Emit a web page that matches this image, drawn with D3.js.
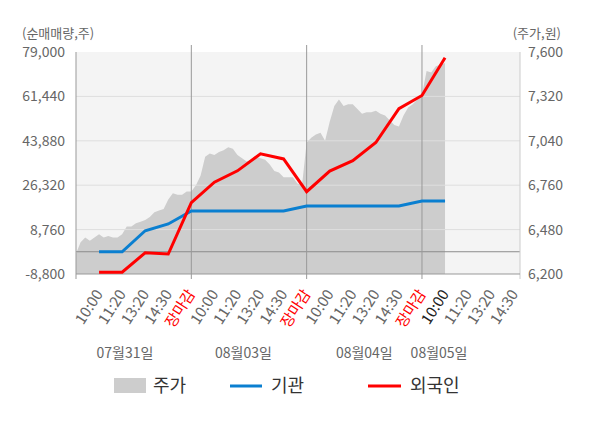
<!DOCTYPE html>
<html><head><meta charset="utf-8">
<script src="https://cdn.jsdelivr.net/npm/d3@7/dist/d3.min.js"></script>
<style>
html,body{margin:0;padding:0;background:#fff;}
text{font-family:"Noto Sans CJK KR","Noto Sans",sans-serif;}
</style></head>
<body><svg id="c" width="600" height="428"></svg>
<script>
// ---- data ----
const timeLabels = ["10:00","11:20","13:20","14:30","장마감","10:00","11:20","13:20","14:30","장마감","10:00","11:20","13:20","14:30","장마감","10:00","11:20","13:20","14:30"];
const dateLabels = ["07월31일","08월03일","08월04일","08월05일"];
const leftTicks = [-8800, 8760, 26320, 43880, 61440, 79000];
const rightTicks = [6200, 6480, 6760, 7040, 7320, 7600];
// net buying volume at each label slot (slot 1..16)
const institution = [0, 0, 8300, 11000, 16100, 16100, 16100, 16100, 16100, 18100, 18100, 18100, 18100, 18100, 20100, 20100];
const foreigner = [-8100, -8100, -400, -900, 19400, 27500, 32000, 38700, 36700, 23750, 31900, 36000, 43200, 56600, 61800, 76700];
// stock price, sampled every 0.2 slot from the start
const price = [
 6330,6400,6430,6410,6430,6450,6430,6440,6430,6430,6450,6500,6500,6520,6530,6540,6560,6590,6600,6610,6670,6710,6700,6700,6720,6720,
 6760,6820,6940,6960,6950,6970,6980,7000,6990,6950,6930,6910,6920,6940,6930,6920,6890,6850,6840,6810,6810,6810,6770,6760,
 7030,7060,7080,7090,7040,7160,7260,7300,7260,7270,7270,7240,7210,7220,7220,7230,7210,7200,7170,7140,7130,7200,7250,7270,7300,7330,
 7480,7470,7510,7520,7530
];

// ---- layout ----
const L = 76, R = 520, T = 52, B = 274;
const svg = d3.select("#c");
const x = d3.scaleLinear().domain([0, 19.25]).range([L, R]);
const yL = d3.scaleLinear().domain([-8800, 79000]).range([B, T]);
const yR = d3.scaleLinear().domain([6200, 7600]).range([B, T]);

svg.append("rect").attr("x", L).attr("y", T).attr("width", R - L).attr("height", B - T).attr("fill", "#f4f4f4");

// price area
svg.append("path").datum(price)
  .attr("fill", "#cdcdcd")
  .attr("d", d3.area().x((d, i) => x(i * 0.2)).y0(B).y1(d => yR(d)));

// gridlines
svg.append("g").selectAll("line").data(leftTicks.slice(1, -1)).join("line")
  .attr("x1", L).attr("x2", R).attr("y1", d => yL(d)).attr("y2", d => yL(d))
  .attr("stroke", "#dedede").attr("stroke-width", 1);
// zero line
svg.append("line").attr("x1", L).attr("x2", R).attr("y1", yL(0)).attr("y2", yL(0))
  .attr("stroke", "#8c8c8c").attr("stroke-width", 1);
// day separators
svg.append("g").selectAll("line").data([5, 10, 15]).join("line")
  .attr("x1", d => x(d)).attr("x2", d => x(d)).attr("y1", 45).attr("y2", B + 5)
  .attr("stroke", "#999").attr("stroke-width", 1);

// axes
svg.append("line").attr("x1", L).attr("x2", L).attr("y1", T).attr("y2", B + 5).attr("stroke", "#999");
svg.append("line").attr("x1", R).attr("x2", R).attr("y1", T).attr("y2", B + 5).attr("stroke", "#ccc");
svg.append("line").attr("x1", L).attr("x2", R).attr("y1", B).attr("y2", B).attr("stroke", "#999");

svg.append("g").selectAll("text").data(leftTicks).join("text")
  .attr("x", 65).attr("y", d => yL(d)).attr("dy", "0.36em").attr("text-anchor", "end")
  .attr("font-size", 14).attr("fill", "#666")
  .text(d => d3.format(",")(d).replace("−", "-"));
svg.append("g").selectAll("text").data(rightTicks).join("text")
  .attr("x", 528).attr("y", d => yR(d)).attr("dy", "0.36em").attr("text-anchor", "start")
  .attr("font-size", 14).attr("fill", "#666")
  .text(d => d3.format(",")(d));
svg.append("text").attr("x", 22).attr("y", 33).attr("dy", "0.36em").attr("font-size", 13).attr("fill", "#666").text("(순매매량,주)");
svg.append("text").attr("x", 561).attr("y", 33).attr("dy", "0.36em").attr("text-anchor", "end").attr("font-size", 13).attr("fill", "#666").text("(주가,원)");

// x labels
svg.append("g").selectAll("text").data(timeLabels).join("text")
  .attr("transform", (d, i) => `translate(${x(i + 1)},${291}) rotate(-57)`)
  .attr("dy", "0.36em").attr("text-anchor", "end").attr("font-size", 15)
  .attr("fill", (d, i) => d === "장마감" ? "#ff0000" : (i === 15 ? "#222" : "#666"))
  .text(d => d);
const datePos = [2.12, 7.26, 12.5, 15.74];
svg.append("g").selectAll("text").data(dateLabels).join("text")
  .attr("x", (d, i) => x(datePos[i])).attr("y", 353).attr("dy", "0.36em").attr("text-anchor", "middle")
  .attr("font-size", 14).attr("fill", "#666").text(d => d);

// lines
const line = d3.line().x((d, i) => x(i + 1)).y(d => yL(d));
svg.append("path").datum(institution).attr("fill", "none").attr("stroke", "#0a7fd0").attr("stroke-width", 3).attr("d", line);
svg.append("path").datum(foreigner).attr("fill", "none").attr("stroke", "#ff0000").attr("stroke-width", 3).attr("d", line);

// legend
const lg = svg.append("g");
lg.append("rect").attr("x", 114).attr("y", 378).attr("width", 32).attr("height", 15).attr("fill", "#cdcdcd");
lg.append("text").attr("x", 153).attr("y", 386).attr("dy", "0.36em").attr("font-size", 18).attr("fill", "#333").text("주가");
lg.append("line").attr("x1", 230).attr("x2", 262).attr("y1", 386).attr("y2", 386).attr("stroke", "#0a7fd0").attr("stroke-width", 3);
lg.append("text").attr("x", 271).attr("y", 386).attr("dy", "0.36em").attr("font-size", 18).attr("fill", "#333").text("기관");
lg.append("line").attr("x1", 368).attr("x2", 401).attr("y1", 386).attr("y2", 386).attr("stroke", "#ff0000").attr("stroke-width", 3);
lg.append("text").attr("x", 410).attr("y", 386).attr("dy", "0.36em").attr("font-size", 18).attr("fill", "#333").text("외국인");
</script></body></html>
